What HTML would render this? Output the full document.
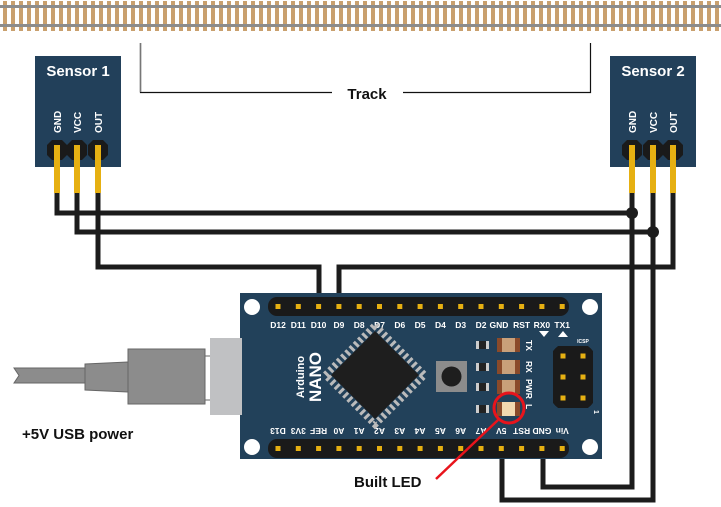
<!DOCTYPE html>
<html><head><meta charset="utf-8"><style>html,body{margin:0;padding:0;background:#fff}svg{display:block}text{font-family:"Liberation Sans",sans-serif;font-weight:bold}</style></head><body>
<svg width="721" height="507" viewBox="0 0 721 507" xmlns="http://www.w3.org/2000/svg">
<defs>
<pattern id="ties" x="3" y="0" width="8" height="40" patternUnits="userSpaceOnUse"><rect x="0" y="1" width="4" height="30" fill="#c9a06e"/></pattern>
<g id="oct"><polygon points="-5,-10 5,-10 10,-5 10,5 5,10 -5,10 -10,5 -10,-5" fill="#1a1a1a"/></g>
</defs>
<rect x="0" y="0" width="721" height="32" fill="url(#ties)"/>
<rect x="0" y="5" width="721" height="3" fill="#8c8c8c"/>
<rect x="0" y="24" width="721" height="3" fill="#8c8c8c"/>
<path d="M140.5 43 V92.5 H332 M403 92.5 H590.5 V43" fill="none" stroke="#111" stroke-width="1.2"/>
<path d="M140.5 43 V92" stroke="#777" stroke-width="1.5"/>
<text x="367" y="99" font-size="15" text-anchor="middle" fill="#111">Track</text>
<g fill="none" stroke="#1c1c1c" stroke-width="5" stroke-linejoin="miter">
<path d="M57 190 V213 H632"/>
<path d="M77 190 V232 H653"/>
<path d="M98 190 V267 H319 V295"/>
<path d="M673 190 V267 H339 V295"/>
<path d="M632 190 V487 H543 V449"/>
<path d="M653 190 V500 H502 V449"/>
</g>
<circle cx="632" cy="213" r="6" fill="#1c1c1c"/>
<circle cx="653" cy="232" r="6" fill="#1c1c1c"/>
<g>
<rect x="35" y="56" width="86" height="111" fill="#22405a"/>
<text x="78" y="76" font-size="15" fill="#fff" text-anchor="middle">Sensor 1</text>
<g font-size="10" fill="#fff"><text transform="translate(61,133) rotate(-90)">GND</text><text transform="translate(81,133) rotate(-90)">VCC</text><text transform="translate(102,133) rotate(-90)">OUT</text></g>
<use href="#oct" x="57" y="150"/><use href="#oct" x="77" y="150"/><use href="#oct" x="98" y="150"/>
<g fill="#e6b012"><rect x="54" y="145" width="6" height="48"/><rect x="74" y="145" width="6" height="48"/><rect x="95" y="145" width="6" height="48"/></g>
</g>
<g>
<rect x="610" y="56" width="86" height="111" fill="#22405a"/>
<text x="653" y="76" font-size="15" fill="#fff" text-anchor="middle">Sensor 2</text>
<g font-size="10" fill="#fff"><text transform="translate(636,133) rotate(-90)">GND</text><text transform="translate(657,133) rotate(-90)">VCC</text><text transform="translate(677,133) rotate(-90)">OUT</text></g>
<use href="#oct" x="632" y="150"/><use href="#oct" x="653" y="150"/><use href="#oct" x="673" y="150"/>
<g fill="#e6b012"><rect x="629" y="145" width="6" height="48"/><rect x="650" y="145" width="6" height="48"/><rect x="670" y="145" width="6" height="48"/></g>
</g>
<polygon points="14,368 85,368 85,383 14,383 19,375.5" fill="#8c8c8c" stroke="#666" stroke-width="1"/>
<polygon points="85,364 128,362 128,392 85,390" fill="#8c8c8c" stroke="#666" stroke-width="1"/>
<rect x="128" y="349" width="77" height="55" fill="#8c8c8c" stroke="#666" stroke-width="1"/>
<rect x="205" y="356" width="6" height="44" fill="#fff" stroke="#666" stroke-width="1"/>
<text x="22" y="439" font-size="15" fill="#111">+5V USB power</text>
<rect x="240" y="293" width="362" height="166" fill="#22415a"/>
<rect x="210" y="338" width="30" height="77" fill="#c0c1c3"/>
<rect x="240" y="338" width="2" height="77" fill="#c0c1c3"/>
<g fill="#fff"><circle cx="252" cy="307" r="8"/><circle cx="590" cy="307" r="8"/><circle cx="252" cy="447" r="8"/><circle cx="590" cy="447" r="8"/></g>
<rect x="268" y="297" width="301" height="19" rx="9" fill="#1a1a1a"/>
<rect x="268" y="439" width="301" height="19" rx="9" fill="#1a1a1a"/>
<g fill="#e6b012">
<rect x="275.5" y="304" width="5" height="5"/><rect x="295.8" y="304" width="5" height="5"/><rect x="316.1" y="304" width="5" height="5"/><rect x="336.4" y="304" width="5" height="5"/><rect x="356.7" y="304" width="5" height="5"/><rect x="377" y="304" width="5" height="5"/><rect x="397.3" y="304" width="5" height="5"/><rect x="417.6" y="304" width="5" height="5"/><rect x="437.9" y="304" width="5" height="5"/><rect x="458.2" y="304" width="5" height="5"/><rect x="478.5" y="304" width="5" height="5"/><rect x="498.8" y="304" width="5" height="5"/><rect x="519.1" y="304" width="5" height="5"/><rect x="539.4" y="304" width="5" height="5"/><rect x="559.7" y="304" width="5" height="5"/>
<rect x="275.5" y="446" width="5" height="5"/><rect x="295.8" y="446" width="5" height="5"/><rect x="316.1" y="446" width="5" height="5"/><rect x="336.4" y="446" width="5" height="5"/><rect x="356.7" y="446" width="5" height="5"/><rect x="377" y="446" width="5" height="5"/><rect x="397.3" y="446" width="5" height="5"/><rect x="417.6" y="446" width="5" height="5"/><rect x="437.9" y="446" width="5" height="5"/><rect x="458.2" y="446" width="5" height="5"/><rect x="478.5" y="446" width="5" height="5"/><rect x="498.8" y="446" width="5" height="5"/><rect x="519.1" y="446" width="5" height="5"/><rect x="539.4" y="446" width="5" height="5"/><rect x="559.7" y="446" width="5" height="5"/>
</g>
<g font-size="8.5" fill="#fff" text-anchor="middle">
<text x="278" y="328">D12</text><text x="298.3" y="328">D11</text><text x="318.6" y="328">D10</text><text x="338.9" y="328">D9</text><text x="359.2" y="328">D8</text><text x="379.5" y="328">D7</text><text x="399.8" y="328">D6</text><text x="420.1" y="328">D5</text><text x="440.4" y="328">D4</text><text x="460.7" y="328">D3</text><text x="481" y="328">D2</text><text x="499" y="328">GND</text><text x="521.6" y="328">RST</text><text x="541.9" y="328">RX0</text><text x="562.2" y="328">TX1</text>
</g>
<g font-size="8.5" fill="#fff" text-anchor="middle">
<text transform="translate(278,428) rotate(180)">D13</text><text transform="translate(298.3,428) rotate(180)">3V3</text><text transform="translate(318.6,428) rotate(180)">REF</text><text transform="translate(338.9,428) rotate(180)">A0</text><text transform="translate(359.2,428) rotate(180)">A1</text><text transform="translate(379.5,428) rotate(180)">A2</text><text transform="translate(399.8,428) rotate(180)">A3</text><text transform="translate(420.1,428) rotate(180)">A4</text><text transform="translate(440.4,428) rotate(180)">A5</text><text transform="translate(460.7,428) rotate(180)">A6</text><text transform="translate(481,428) rotate(180)">A7</text><text transform="translate(501.3,428) rotate(180)">5V</text><text transform="translate(521.6,428) rotate(180)">RST</text><text transform="translate(541.9,428) rotate(180)">GND</text><text transform="translate(562.2,428) rotate(180)">Vin</text>
</g>
<polygon points="539,331 549,331 544,337" fill="#fff"/><polygon points="558,337 568,337 563,331" fill="#fff"/>
<text transform="translate(304,377) rotate(-90)" font-size="11" fill="#fff" text-anchor="middle">Arduino</text>
<text transform="translate(321,377) rotate(-90)" font-size="17" fill="#fff" text-anchor="middle">NANO</text>
<g transform="translate(375,375) rotate(45)">
<rect x="-35" y="-35" width="70" height="70" fill="none" stroke="#bbb" stroke-width="7" stroke-dasharray="3 3"/>
<rect x="-31" y="-31" width="62" height="62" fill="#1e1e1e"/>
</g>
<rect x="436" y="361" width="31" height="31" fill="#8c8c8c"/>
<circle cx="451.5" cy="376.5" r="10" fill="#1e1e1e"/>
<g>
<rect x="476" y="341" width="13" height="8" fill="#ccc"/><rect x="479" y="341" width="7" height="8" fill="#222"/>
<rect x="476" y="363" width="13" height="8" fill="#ccc"/><rect x="479" y="363" width="7" height="8" fill="#222"/>
<rect x="476" y="383" width="13" height="8" fill="#ccc"/><rect x="479" y="383" width="7" height="8" fill="#222"/>
<rect x="476" y="405" width="13" height="8" fill="#ccc"/><rect x="479" y="405" width="7" height="8" fill="#222"/>
<rect x="497" y="338" width="23" height="14" fill="#8a4a2a"/><rect x="502" y="338" width="13" height="14" fill="#c9a07a"/>
<rect x="497" y="360" width="23" height="14" fill="#8a4a2a"/><rect x="502" y="360" width="13" height="14" fill="#c9a07a"/>
<rect x="497" y="380" width="23" height="14" fill="#8a4a2a"/><rect x="502" y="380" width="13" height="14" fill="#c9a07a"/>
<rect x="497" y="402" width="23" height="14" fill="#8a4a2a"/><rect x="502" y="402" width="13" height="14" fill="#f2d9b0"/>
</g>
<g font-size="8.5" fill="#fff">
<text transform="translate(526,340) rotate(90)">TX</text><text transform="translate(526,361) rotate(90)">RX</text><text transform="translate(526,379) rotate(90)">PWR</text><text transform="translate(526,404) rotate(90)">L</text>
</g>
<text x="583" y="343" font-size="5" fill="#fff" text-anchor="middle">ICSP</text>
<rect x="553" y="346" width="40" height="62" rx="8" fill="#1a1a1a"/>
<use href="#oct" x="563" y="356"/><use href="#oct" x="583" y="356"/><use href="#oct" x="563" y="377"/><use href="#oct" x="583" y="377"/><use href="#oct" x="563" y="398"/><use href="#oct" x="583" y="398"/>
<g fill="#e6b012"><rect x="560.5" y="353.5" width="5" height="5"/><rect x="580.5" y="353.5" width="5" height="5"/><rect x="560.5" y="374.5" width="5" height="5"/><rect x="580.5" y="374.5" width="5" height="5"/><rect x="560.5" y="395.5" width="5" height="5"/><rect x="580.5" y="395.5" width="5" height="5"/></g>
<text transform="translate(594,410) rotate(90)" font-size="7" fill="#fff">1</text>
<circle cx="509" cy="408" r="15" fill="none" stroke="#e8141c" stroke-width="3"/>
<line x1="436" y1="479" x2="498" y2="420" stroke="#e8141c" stroke-width="2.5"/>
<text x="354" y="487" font-size="15" fill="#111">Built LED</text>
</svg>
</body></html>
